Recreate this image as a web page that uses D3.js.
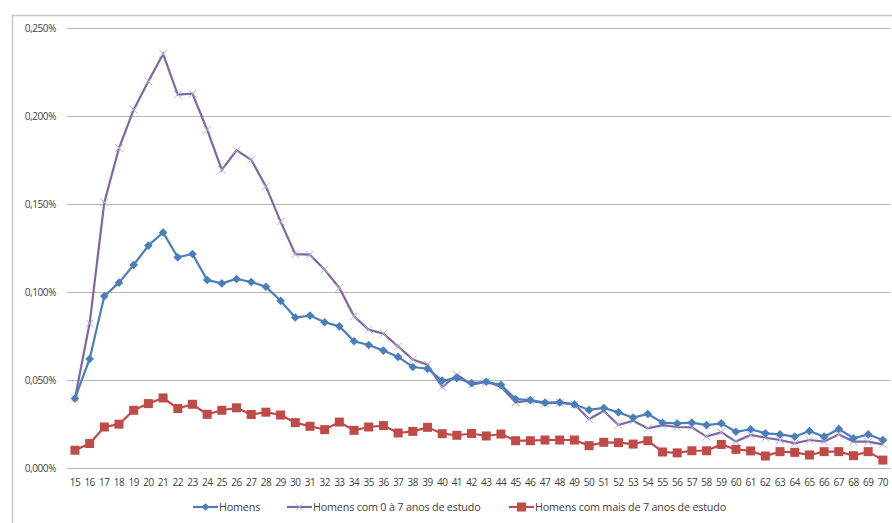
<!DOCTYPE html>
<html><head><meta charset="utf-8">
<script src="https://cdn.jsdelivr.net/npm/d3@7"></script>
<style>
html,body{margin:0;padding:0;background:#fff;}
svg{display:block;font-family:"Open Sans","Liberation Sans",sans-serif;}
</style></head>
<body><svg id="c" width="892" height="523"></svg>
<script>
const ages = d3.range(15, 71).map(String);
const yTicks = [0, 0.05, 0.10, 0.15, 0.20, 0.25];
const seriesNames = ["Homens", "Homens com 0 à 7 anos de estudo", "Homens com mais de 7 anos de estudo"];
const homens = [0.0395,0.062,0.0977,0.1053,0.1154,0.1264,0.1338,0.1197,0.1216,0.1068,0.1049,0.1074,0.1057,0.1030,0.0950,0.0855,
0.0866,0.0828,0.0805,0.0720,0.0699,0.0667,0.0631,0.0574,0.0564,0.0496,0.0511,0.0482,0.049,0.0472,0.0392,0.0386,0.0371,0.0373,0.0362,
0.0330,0.0341,0.0316,0.0286,0.0307,0.0257,0.0253,0.0258,0.0244,0.0254,0.0206,0.0220,0.0197,0.0191,0.0178,0.0210,0.0178,0.0222,0.0169,0.0191,0.0159];
const homens0a7 = [0.0395,0.0822,0.1509,0.1818,0.2036,0.2197,0.2353,0.2121,0.2127,0.1922,0.1694,0.1805,0.1751,0.1600,0.1400,0.1215,
0.1212,0.1127,0.1023,0.0862,0.0786,0.0763,0.0691,0.0616,0.0587,0.0460,0.0530,0.0473,0.049,0.0462,0.0373,0.0383,0.0367,0.0371,0.0362,
0.0278,0.0324,0.0244,0.0269,0.0225,0.0244,0.0233,0.0231,0.0178,0.0203,0.0150,0.0188,0.0172,0.0159,0.0140,0.0159,0.0150,0.0191,0.0150,0.0150,0.0134];
const homensMais7 = [0.0101,0.0139,0.0233,0.0249,0.0328,0.0366,0.0398,0.0338,0.0362,0.0305,0.0328,0.0342,0.0304,0.0317,0.0301,0.0258,
0.0237,0.0218,0.0261,0.0214,0.0233,0.0241,0.0199,0.0208,0.0231,0.0195,0.0186,0.0196,0.0182,0.0193,0.0155,0.0155,0.0159,0.0159,0.0159,
0.0127,0.0146,0.0144,0.0136,0.0155,0.0091,0.0086,0.0098,0.0098,0.0134,0.0106,0.0097,0.0068,0.0093,0.0089,0.0074,0.0093,0.0093,0.0070,0.0093,0.0045];

const svg = d3.select("#c");
svg.append("rect").attr("x",12.5).attr("y",15.5).attr("width",892).attr("height",520)
  .attr("fill","none").attr("stroke","#c8c8c8").attr("stroke-width",1.5);

const x = d3.scalePoint().domain(ages).range([67.6, 890.2]).padding(0.5);
const y = d3.scaleLinear().domain([0, 0.25]).range([468, 28]);

svg.append("g").selectAll("line").data(yTicks).join("line")
  .attr("x1",67).attr("x2",890)
  .attr("y1",d=>Math.round(y(d))+0.5).attr("y2",d=>Math.round(y(d))+0.5)
  .attr("stroke","#b4b4b4").attr("stroke-width",1.2);

const fmt = d => d3.format(".3f")(d).replace(".", ",") + "%";
svg.append("g").selectAll("text").data(yTicks).join("text")
  .attr("x",56).attr("y",d=>y(d)+3.5).attr("text-anchor","end")
  .attr("font-size",10).attr("fill","#404040").attr("letter-spacing","-0.4")
  .text(fmt);

svg.append("g").selectAll("text").data(ages).join("text")
  .attr("x",d=>x(d)).attr("y",486).attr("text-anchor","middle")
  .attr("font-size",10).attr("fill","#404040").attr("letter-spacing","-0.5")
  .text(d=>d);

const line = d3.line().x((d,i)=>x(ages[i])).y(d=>y(d));
const blue = "#4a7ebb", purple = "#7d68a4", red = "#be4b48";

const gP = svg.append("g");
gP.append("path").datum(homens0a7).attr("d",line).attr("fill","none").attr("stroke",purple).attr("stroke-width",2.2);
gP.selectAll("path.m").data(homens0a7).join("path").attr("class","m")
  .attr("d", d3.symbol(d3.symbolX, 40)())
  .attr("transform",(d,i)=>`translate(${x(ages[i])},${y(d)})`)
  .attr("fill","none").attr("stroke","#b9aed0").attr("stroke-width",1);

const gB = svg.append("g");
gB.append("path").datum(homens).attr("d",line).attr("fill","none").attr("stroke",blue).attr("stroke-width",2.2);
gB.selectAll("path.m").data(homens).join("path").attr("class","m")
  .attr("d", d3.symbol(d3.symbolDiamond2, 48)())
  .attr("transform",(d,i)=>`translate(${x(ages[i])},${y(d)})`).attr("fill",blue);

const gR = svg.append("g");
gR.append("path").datum(homensMais7).attr("d",line).attr("fill","none").attr("stroke",red).attr("stroke-width",2.2);
gR.selectAll("rect.m").data(homensMais7).join("rect").attr("class","m")
  .attr("x",(d,i)=>x(ages[i])-4.5).attr("y",d=>y(d)-4.5).attr("width",9).attr("height",9).attr("fill",red);

const leg = svg.append("g");
const legItems = [
  {name: seriesNames[0], x0:193, color: blue, type:"diamond"},
  {name: seriesNames[1], x0:287, color: purple, type:"x"},
  {name: seriesNames[2], x0:509, color: red, type:"square"}
];
legItems.forEach(it=>{
  const ly = 507;
  leg.append("line").attr("x1",it.x0).attr("x2",it.x0+25).attr("y1",ly).attr("y2",ly)
    .attr("stroke",it.color).attr("stroke-width",2.2);
  const cx = it.x0+12.5;
  if(it.type==="diamond"){
    leg.append("path").attr("d",d3.symbol(d3.symbolDiamond2,34)()).attr("transform",`translate(${cx},${ly})`).attr("fill",it.color);
  } else if(it.type==="x"){
    leg.append("path").attr("d",d3.symbol(d3.symbolX,36)()).attr("transform",`translate(${cx},${ly})`)
      .attr("fill","none").attr("stroke","#b9aed0").attr("stroke-width",1);
  } else {
    leg.append("rect").attr("x",cx-4.5).attr("y",ly-4.5).attr("width",9).attr("height",9).attr("fill",it.color);
  }
  leg.append("text").attr("x",it.x0+26).attr("y",ly+3.8).attr("font-size",10.8).attr("fill","#404040")
    .attr("letter-spacing","-0.2").text(it.name);
});
</script></body></html>
